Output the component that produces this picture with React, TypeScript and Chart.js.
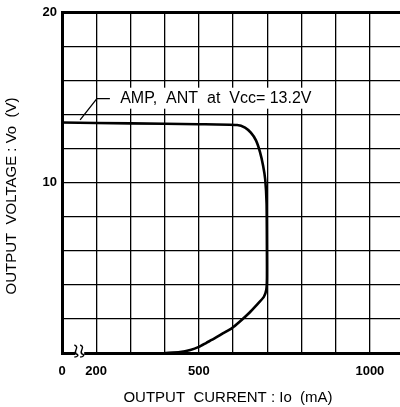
import React, { useEffect, useRef } from "react";
import { Chart, registerables } from "chart.js";

Chart.register(...registerables);

// ---- data ----
const currentMA = [100, 300, 500, 612, 635, 652, 667, 679, 688, 694, 698, 699, 699, 697, 690, 668, 647, 620, 596, 570, 547, 522, 500, 475, 445, 400];
const voltageV = [13.55, 13.5, 13.45, 13.4, 13.25, 12.95, 12.5, 11.8, 11.0, 10.2, 8.8, 6.0, 4.3, 3.7, 3.3, 2.8, 2.35, 1.85, 1.45, 1.15, 0.87, 0.6, 0.36, 0.18, 0.06, 0];

const xGridValues = [100, 200, 300, 400, 500, 600, 700, 800, 900, 1000];
const xTickText: Record<number, string> = { 100: "0", 200: "200", 500: "500", 1000: "1000" };
const yGridValues = [0, 2, 4, 6, 8, 10, 12, 14, 16, 18, 20];
const yTickText: Record<number, string> = { 10: "10", 20: "20" };

const X_MIN = 100;
const X_MAX = 1088;
const Y_MIN = 0;
const Y_MAX = 20;

const seriesLabel = "AMP,  ANT  at  Vcc= 13.2V";
const labelAnchorX = 270;
const labelAnchorY = 14.95;
const leaderX = [153, 202, 240];
const leaderY = [13.7, 14.95, 14.95];
const breakMarksX = [142, 159];

const xTitle = "OUTPUT  CURRENT : Io  (mA)";
const yTitle = "OUTPUT  VOLTAGE : Vo  (V)";

const FONT = "'Liberation Sans', Arial, Helvetica, sans-serif";

const decorPlugin = {
  id: "decor",
  afterDraw(chart: any) {
    const ctx = chart.ctx as CanvasRenderingContext2D;
    const xs = chart.scales.x;
    const ys = chart.scales.y;
    const area = chart.chartArea;
    ctx.save();

    // annotation label with white backing
    ctx.font = `16px ${FONT}`;
    ctx.textBaseline = "middle";
    ctx.textAlign = "left";
    const tx = xs.getPixelForValue(labelAnchorX);
    const ty = ys.getPixelForValue(labelAnchorY);
    const w = ctx.measureText(seriesLabel).width;
    ctx.fillStyle = "#fff";
    ctx.fillRect(tx - 3, ty - 11, w + 6, 21);
    ctx.fillStyle = "#000";
    ctx.fillText(seriesLabel, tx, ty);

    // leader line
    ctx.strokeStyle = "#000";
    ctx.lineWidth = 1.3;
    ctx.beginPath();
    leaderX.forEach((v, i) => {
      const px = xs.getPixelForValue(v);
      const py = ys.getPixelForValue(leaderY[i]);
      if (i === 0) ctx.moveTo(px, py);
      else ctx.lineTo(px, py);
    });
    ctx.stroke();

    // axis break marks
    const by = area.bottom;
    const bx0 = xs.getPixelForValue(breakMarksX[0]);
    const bx1 = xs.getPixelForValue(breakMarksX[1]);
    ctx.fillStyle = "#fff";
    ctx.fillRect(bx0 - 1, by - 3, bx1 - bx0 + 3, 6);
    ctx.lineWidth = 1.4;
    breakMarksX.forEach((v) => {
      const px = xs.getPixelForValue(v);
      ctx.beginPath();
      ctx.moveTo(px - 2, by - 8);
      ctx.bezierCurveTo(px + 4, by - 6, px - 4, by - 1, px, by + 1);
      ctx.bezierCurveTo(px + 3, by + 2, px + 1, by + 4, px - 2, by + 4);
      ctx.stroke();
    });

    // axis titles
    ctx.fillStyle = "#000";
    ctx.font = `15px ${FONT}`;
    ctx.textAlign = "center";
    ctx.textBaseline = "middle";
    ctx.fillText(xTitle, 228, 398);
    ctx.translate(12, 196);
    ctx.rotate(-Math.PI / 2);
    ctx.fillText(yTitle, 0, 0);

    ctx.restore();
  },
};

export default function App() {
  const canvasRef = useRef<HTMLCanvasElement | null>(null);

  useEffect(() => {
    if (!canvasRef.current) return;
    const chart = new Chart(canvasRef.current, {
      type: "scatter",
      data: {
        datasets: [
          {
            label: seriesLabel,
            data: currentMA.map((x, i) => ({ x, y: voltageV[i] })),
            showLine: true,
            borderColor: "#000",
            borderWidth: 2.6,
            pointRadius: 0,
            tension: 0.2,
            fill: false,
          },
        ],
      },
      options: {
        animation: false,
        responsive: false,
        maintainAspectRatio: false,
        layout: { padding: { top: 9, right: 0, left: 0, bottom: 0 } },
        plugins: { legend: { display: false }, tooltip: { enabled: false } },
        scales: {
          x: {
            type: "linear",
            min: X_MIN,
            max: X_MAX,
            afterBuildTicks: (s: any) => {
              s.ticks = xGridValues.map((v) => ({ value: v }));
            },
            afterFit: (s: any) => {
              s.height = 54;
            },
            ticks: {
              autoSkip: false,
              maxRotation: 0,
              padding: 11,
              color: "#000",
              font: { family: FONT, size: 13, weight: "bold" },
              callback: (v: any) => xTickText[v] ?? "",
            },
            grid: { color: "#000", lineWidth: 1.3, drawTicks: false },
            border: { color: "#000", width: 3 },
          },
          y: {
            type: "linear",
            min: Y_MIN,
            max: Y_MAX,
            afterBuildTicks: (s: any) => {
              s.ticks = yGridValues.map((v) => ({ value: v }));
            },
            afterFit: (s: any) => {
              s.width = 62;
            },
            ticks: {
              autoSkip: false,
              padding: 5,
              color: "#000",
              font: { family: FONT, size: 13, weight: "bold" },
              callback: (v: any) => yTickText[v] ?? "",
            },
            grid: {
              color: "#000",
              lineWidth: (c: any) => (c.tick && c.tick.value === Y_MAX ? 3 : 1.3),
              drawTicks: false,
            },
            border: { color: "#000", width: 3 },
          },
        },
      },
      plugins: [decorPlugin],
    } as any);
    return () => chart.destroy();
  }, []);

  return (
    <div style={{ position: "fixed", left: 0, top: 0, width: 400, height: 407, background: "#fff" }}>
      <canvas ref={canvasRef} width={400} height={407} style={{ width: 400, height: 407, display: "block" }} />
    </div>
  );
}
